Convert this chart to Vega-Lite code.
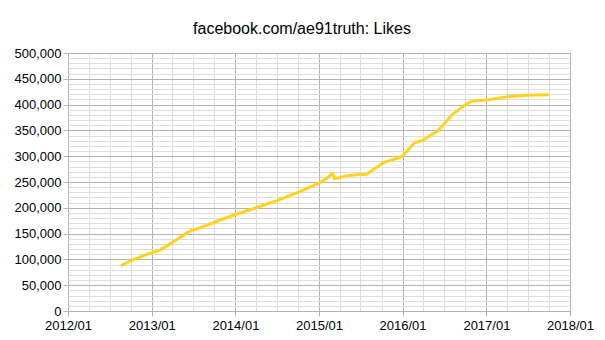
{
  "$schema": "https://vega.github.io/schema/vega-lite/v6.json",
  "width": 502,
  "height": 258,
  "autosize": {"type": "none"},
  "padding": {"left": 68, "top": 53, "right": 35, "bottom": 29},
  "background": "white",
  "title": {"text": "facebook.com/ae91truth: Likes", "fontSize": 16, "font": "Liberation Sans", "fontWeight": "normal", "color": "#000000", "anchor": "middle", "frame": "group", "dx": -17, "baseline": "alphabetic", "offset": -3},
  "config": {
    "view": {"stroke": null},
    "axis": {"labelFont": "Liberation Sans", "labelFontSize": 13, "labelColor": "#000000", "titleColor": "#000000"}
  },
  "data": {"values": [
    {"date": "2012/08/24", "likes": 89000},
    {"date": "2012/10/15", "likes": 100000},
    {"date": "2012/12/25", "likes": 112000},
    {"date": "2013/02/06", "likes": 118000},
    {"date": "2013/04/01", "likes": 133000},
    {"date": "2013/06/17", "likes": 155000},
    {"date": "2013/07/30", "likes": 161000},
    {"date": "2013/10/01", "likes": 172000},
    {"date": "2014/01/01", "likes": 187000},
    {"date": "2014/04/01", "likes": 200000},
    {"date": "2014/07/01", "likes": 214000},
    {"date": "2014/10/01", "likes": 230000},
    {"date": "2015/01/01", "likes": 248000},
    {"date": "2015/02/01", "likes": 256000},
    {"date": "2015/03/02", "likes": 267000},
    {"date": "2015/03/10", "likes": 256000},
    {"date": "2015/05/02", "likes": 262000},
    {"date": "2015/06/15", "likes": 264000},
    {"date": "2015/07/28", "likes": 265000},
    {"date": "2015/10/06", "likes": 287000},
    {"date": "2015/12/28", "likes": 299000},
    {"date": "2016/02/23", "likes": 326000},
    {"date": "2016/03/30", "likes": 331000},
    {"date": "2016/05/01", "likes": 340000},
    {"date": "2016/06/03", "likes": 349000},
    {"date": "2016/08/03", "likes": 380000},
    {"date": "2016/09/29", "likes": 399000},
    {"date": "2016/10/30", "likes": 407000},
    {"date": "2017/01/03", "likes": 409000},
    {"date": "2017/03/31", "likes": 415000},
    {"date": "2017/07/01", "likes": 418000},
    {"date": "2017/09/26", "likes": 419000}
  ]},
  "layer": [
    {
      "mark": {"type": "line", "opacity": 0},
      "encoding": {
        "x": {"field": "date", "type": "temporal",
          "scale": {"domain": [{"year": 2012, "month": 1, "date": 1}, {"year": 2018, "month": 1, "date": 1}]},
          "axis": {"orient": "bottom", "title": null, "labels": false, "ticks": false, "domain": false, "grid": true, "gridColor": "#dddddd", "gridOpacity": 1,
            "values": [
              {"year": 2012, "month": 4, "date": 1}, {"year": 2012, "month": 7, "date": 1}, {"year": 2012, "month": 10, "date": 1},
              {"year": 2013, "month": 4, "date": 1}, {"year": 2013, "month": 7, "date": 1}, {"year": 2013, "month": 10, "date": 1},
              {"year": 2014, "month": 4, "date": 1}, {"year": 2014, "month": 7, "date": 1}, {"year": 2014, "month": 10, "date": 1},
              {"year": 2015, "month": 4, "date": 1}, {"year": 2015, "month": 7, "date": 1}, {"year": 2015, "month": 10, "date": 1},
              {"year": 2016, "month": 4, "date": 1}, {"year": 2016, "month": 7, "date": 1}, {"year": 2016, "month": 10, "date": 1},
              {"year": 2017, "month": 4, "date": 1}, {"year": 2017, "month": 7, "date": 1}, {"year": 2017, "month": 10, "date": 1}
            ]}},
        "y": {"field": "likes", "type": "quantitative",
          "scale": {"domain": [0, 500000], "nice": false},
          "axis": {"orient": "left", "title": null, "labels": false, "ticks": false, "domain": false, "grid": true, "gridColor": "#dddddd", "gridOpacity": 1,
            "values": [10000, 20000, 30000, 40000, 60000, 70000, 80000, 90000, 110000, 120000, 130000, 140000, 160000, 170000, 180000, 190000, 210000, 220000, 230000, 240000, 260000, 270000, 280000, 290000, 310000, 320000, 330000, 340000, 360000, 370000, 380000, 390000, 410000, 420000, 430000, 440000, 460000, 470000, 480000, 490000]}}
      }
    },
    {
      "mark": {"type": "line", "color": "#ffd320", "strokeWidth": 3, "strokeJoin": "round", "strokeCap": "round"},
      "encoding": {
        "x": {"field": "date", "type": "temporal",
          "axis": {"orient": "bottom", "title": null, "format": "%Y/%m", "grid": true, "gridColor": "#b3b3b3", "gridOpacity": 1, "domain": false, "tickColor": "#b3b3b3", "tickSize": 5, "labelPadding": 3,
            "values": [
              {"year": 2012, "month": 1, "date": 1}, {"year": 2013, "month": 1, "date": 1}, {"year": 2014, "month": 1, "date": 1},
              {"year": 2015, "month": 1, "date": 1}, {"year": 2016, "month": 1, "date": 1}, {"year": 2017, "month": 1, "date": 1},
              {"year": 2018, "month": 1, "date": 1}
            ], "labelOverlap": false, "labelFlush": false}},
        "y": {"field": "likes", "type": "quantitative",
          "axis": {"orient": "left", "title": null, "format": ",d", "grid": true, "gridColor": "#b3b3b3", "gridOpacity": 1, "domain": false, "tickColor": "#b3b3b3", "tickSize": 5, "labelPadding": 2,
            "values": [0, 50000, 100000, 150000, 200000, 250000, 300000, 350000, 400000, 450000, 500000], "labelOverlap": false, "labelFlush": false}}
      }
    }
  ],
  "resolve": {"axis": {"x": "independent", "y": "independent"}}
}
